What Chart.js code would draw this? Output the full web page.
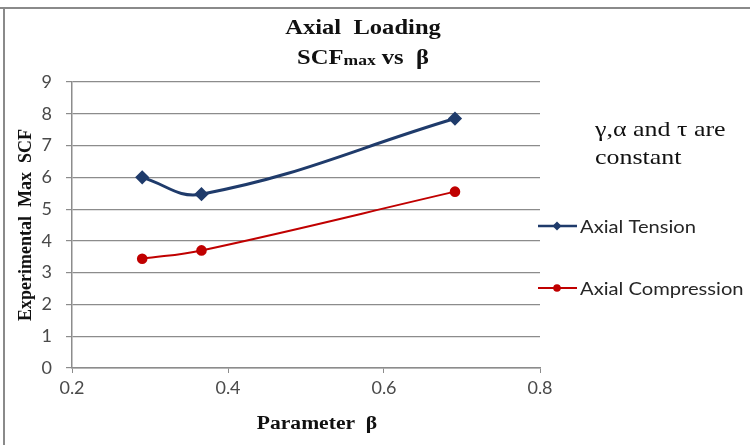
<!DOCTYPE html>
<html>
<head>
<meta charset="utf-8">
<script src="https://cdn.jsdelivr.net/npm/chart.js@4"></script>
<style>
  body { margin: 0; background: #fff; }
  #wrap { width: 750px; height: 445px; }
</style>
</head>
<body>
<div id="wrap"><canvas id="scfChart" width="750" height="445"></canvas></div>
<script>
// --- Data ---
const betaValues = [0.29, 0.366, 0.691];
const tensionSCF = [6.0, 5.47, 7.85];
const compressionSCF = [3.44, 3.70, 5.55];
const seriesNames = ['Axial Tension', 'Axial Compression'];
const yTicks = [0, 1, 2, 3, 4, 5, 6, 7, 8, 9];
const xTicks = [0.2, 0.4, 0.6, 0.8];

const TENSION_COLOR = '#1F3B6B';
const COMPRESSION_COLOR = '#C00000';
const GRID_COLOR = '#8C8C8C';
const SERIF = '"Liberation Serif", "Times New Roman", serif';
const SANS = 'Lato, "Liberation Sans", sans-serif';

function toPoints(xs, ys) {
    return xs.map((x, i) => ({ x: x, y: ys[i] }));
}

// the reference text is a bit stretched sideways, so draw it the same way
function stretchedText(ctx, text, x, y, sx, align) {
    ctx.save();
    ctx.translate(x, y);
    ctx.scale(sx, 1);
    ctx.textAlign = align || 'left';
    ctx.fillText(text, 0, 0);
    ctx.restore();
}

// --- Title, note, legend, x title and frame drawn on top ---
const decorPlugin = {
    id: 'decor',
    afterDraw(chart) {
        const ctx = chart.ctx;
        const area = chart.chartArea;
        ctx.save();

        // frame lines (top and left)
        ctx.strokeStyle = '#8A8A8A';
        ctx.lineWidth = 2;
        ctx.beginPath();
        ctx.moveTo(0, 8); ctx.lineTo(750, 8);
        ctx.moveTo(4, 8); ctx.lineTo(4, 445);
        ctx.stroke();

        // title
        const SX = 1.17;
        ctx.fillStyle = '#111';
        ctx.textBaseline = 'alphabetic';
        ctx.font = 'bold 21px ' + SERIF;
        stretchedText(ctx, 'Axial  Loading', 363, 34, SX, 'center');

        const big = 'bold 21px ' + SERIF;
        const small = 'bold 15px ' + SERIF;
        ctx.font = big; const w1 = ctx.measureText('SCF').width * SX;
        ctx.font = small; const w2 = ctx.measureText('max').width * SX;
        ctx.font = big; const w3 = ctx.measureText(' vs  \u03B2').width * SX;
        let x = 363 - (w1 + w2 + w3) / 2;
        ctx.font = big; stretchedText(ctx, 'SCF', x, 64, SX); x += w1;
        ctx.font = small; stretchedText(ctx, 'max', x, 65, SX); x += w2;
        ctx.font = big; stretchedText(ctx, ' vs  \u03B2', x, 64, SX);

        // x axis title
        ctx.font = 'bold 18px ' + SERIF;
        stretchedText(ctx, 'Parameter  \u03B2', 317, 429, 1.2, 'center');

        // note
        ctx.font = '22px ' + SERIF;
        stretchedText(ctx, '\u03B3,\u03B1 and \u03C4 are', 595, 136, 1.18);
        stretchedText(ctx, 'constant', 595, 164, 1.18);

        // legend
        const items = [
            { name: seriesNames[0], color: TENSION_COLOR, y: 226, shape: 'diamond', lw: 2.5 },
            { name: seriesNames[1], color: COMPRESSION_COLOR, y: 288, shape: 'circle', lw: 1.8 }
        ];
        items.forEach(it => {
            ctx.strokeStyle = it.color;
            ctx.fillStyle = it.color;
            ctx.lineWidth = it.lw;
            ctx.beginPath();
            ctx.moveTo(538, it.y); ctx.lineTo(577, it.y);
            ctx.stroke();
            ctx.beginPath();
            if (it.shape === 'diamond') {
                ctx.moveTo(557, it.y - 4.5); ctx.lineTo(561.5, it.y);
                ctx.lineTo(557, it.y + 4.5); ctx.lineTo(552.5, it.y);
                ctx.closePath();
            } else {
                ctx.arc(557, it.y, 3.8, 0, Math.PI * 2);
            }
            ctx.fill();
            ctx.fillStyle = '#262626';
            ctx.font = '18px ' + SANS;
            ctx.textBaseline = 'middle';
            stretchedText(ctx, it.name, 580, it.y + 1, 1.12);
            ctx.textBaseline = 'alphabetic';
        });

        ctx.restore();
    }
};

const chartConfig = {
    type: 'scatter',
    data: {
        datasets: [
            {
                label: seriesNames[0],
                data: toPoints(betaValues, tensionSCF),
                showLine: true,
                borderColor: TENSION_COLOR,
                backgroundColor: TENSION_COLOR,
                borderWidth: 3,
                tension: 0.4,
                pointStyle: 'rectRot',
                pointRadius: 5,
                pointHoverRadius: 5
            },
            {
                label: seriesNames[1],
                data: toPoints(betaValues, compressionSCF),
                showLine: true,
                borderColor: COMPRESSION_COLOR,
                backgroundColor: COMPRESSION_COLOR,
                borderWidth: 2,
                tension: 0.4,
                pointStyle: 'circle',
                pointRadius: 4.3,
                pointHoverRadius: 4.3
            }
        ]
    },
    options: {
        responsive: false,
        animation: false,
        layout: { padding: { top: 82, right: 210, left: 6, bottom: 0 } },
        plugins: {
            legend: { display: false },
            title: { display: false },
            tooltip: { enabled: false }
        },
        scales: {
            x: {
                type: 'linear',
                min: 0.2, max: 0.8,
                afterFit: (scale) => { scale.height = 77; },
                afterBuildTicks: (scale) => { scale.ticks = xTicks.map(v => ({ value: v })); },
                ticks: {
                    color: '#4A4A4A',
                    font: { family: SANS, size: 18 },
                    padding: 4,
                    callback: (v) => v.toFixed(1)
                },
                grid: { drawOnChartArea: false, drawTicks: true, tickLength: 5, color: GRID_COLOR },
                border: { color: GRID_COLOR, width: 1.5 },
                title: { display: false }
            },
            y: {
                min: 0, max: 9,
                afterFit: (scale) => { scale.width = 66; },
                afterBuildTicks: (scale) => { scale.ticks = yTicks.map(v => ({ value: v })); },
                ticks: {
                    color: '#4A4A4A',
                    font: { family: SANS, size: 18 },
                    padding: 14
                },
                grid: { color: GRID_COLOR, lineWidth: 1.2, tickLength: 6 },
                border: { color: GRID_COLOR, width: 1.5 },
                title: {
                    display: true,
                    text: 'Experimental  Max  SCF',
                    color: '#111',
                    font: { family: SERIF, size: 18, weight: 'bold' },
                    padding: { top: 10, bottom: 0 }
                }
            }
        }
    },
    plugins: [decorPlugin]
};

const ctx = document.getElementById('scfChart').getContext('2d');
new Chart(ctx, chartConfig);
</script>
</body>
</html>
